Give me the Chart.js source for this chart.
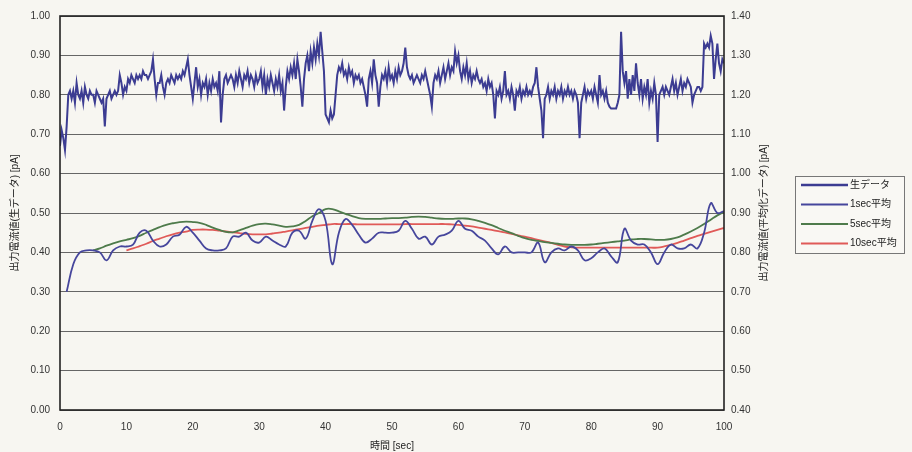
<!DOCTYPE html>
<html>
<head>
<meta charset="utf-8">
<script src="https://cdn.jsdelivr.net/npm/chart.js@4.4.0/dist/chart.umd.min.js"></script>
<style>
  html, body { margin: 0; padding: 0; background: #f7f6f1; }
  #wrap { width: 912px; height: 452px; }
</style>
</head>
<body>
<div id="wrap"><canvas id="c" width="912" height="452"></canvas></div>
<script>
// ---- data -------------------------------------------------------------
const seriesLabels = ['生データ', '1sec平均', '5sec平均', '10sec平均'];
const axisTitleX = '時間 [sec]';
const axisTitleRaw = '出力電流値(生データ) [pA]';
const axisTitleAvg = '出力電流値(平均化データ) [pA]';

const timeTicks = [0, 10, 20, 30, 40, 50, 60, 70, 80, 90, 100];
const rawTicks = [0.0, 0.1, 0.2, 0.3, 0.4, 0.5, 0.6, 0.7, 0.8, 0.9, 1.0];
const avgTicks = [0.4, 0.5, 0.6, 0.7, 0.8, 0.9, 1.0, 1.1, 1.2, 1.3, 1.4];

// raw current [pA], one sample every 0.25 s from t = 0
const rawSampleSec = 0.25;
const rawCurrent = [
  0.67,0.71,0.69,0.66,0.72,0.80,0.81,0.79,0.81,0.78,0.83,0.80,0.79,0.81,0.78,0.82,0.80,0.79,0.81,0.80,
  0.80,0.78,0.81,0.80,0.79,0.78,0.79,0.72,0.79,0.80,0.81,0.79,0.80,0.81,0.80,0.81,0.85,0.83,0.80,0.82,
  0.81,0.84,0.83,0.85,0.84,0.83,0.85,0.84,0.85,0.84,0.86,0.85,0.85,0.84,0.85,0.86,0.89,0.84,0.80,0.83,
  0.83,0.85,0.82,0.80,0.83,0.84,0.83,0.85,0.84,0.83,0.85,0.84,0.85,0.84,0.86,0.85,0.87,0.89,0.85,0.82,
  0.79,0.83,0.87,0.82,0.84,0.80,0.83,0.82,0.84,0.80,0.83,0.81,0.84,0.82,0.83,0.81,0.86,0.73,0.80,0.84,
  0.85,0.83,0.84,0.85,0.84,0.82,0.85,0.83,0.86,0.84,0.82,0.85,0.84,0.86,0.83,0.85,0.84,0.82,0.85,0.83,
  0.84,0.86,0.82,0.85,0.80,0.84,0.82,0.85,0.83,0.81,0.84,0.82,0.85,0.81,0.83,0.76,0.82,0.86,0.84,0.87,
  0.85,0.88,0.84,0.89,0.86,0.82,0.77,0.84,0.88,0.90,0.86,0.91,0.88,0.92,0.89,0.93,0.90,0.96,0.91,0.86,
  0.75,0.74,0.73,0.76,0.74,0.75,0.80,0.85,0.87,0.86,0.88,0.85,0.86,0.84,0.87,0.85,0.86,0.83,0.85,0.84,
  0.85,0.83,0.84,0.82,0.80,0.77,0.84,0.86,0.83,0.89,0.85,0.83,0.77,0.82,0.85,0.84,0.86,0.83,0.87,0.84,
  0.85,0.83,0.86,0.84,0.87,0.85,0.86,0.88,0.92,0.87,0.85,0.84,0.85,0.83,0.84,0.85,0.84,0.83,0.85,0.84,
  0.86,0.84,0.82,0.80,0.77,0.83,0.85,0.84,0.86,0.83,0.85,0.87,0.84,0.86,0.88,0.85,0.87,0.86,0.91,0.88,
  0.90,0.86,0.84,0.87,0.85,0.88,0.84,0.86,0.83,0.85,0.84,0.86,0.84,0.83,0.84,0.82,0.83,0.81,0.84,0.82,
  0.83,0.80,0.74,0.81,0.80,0.82,0.79,0.81,0.86,0.80,0.81,0.79,0.82,0.80,0.76,0.81,0.80,0.82,0.79,0.81,
  0.80,0.82,0.80,0.81,0.80,0.82,0.83,0.87,0.82,0.79,0.76,0.69,0.79,0.80,0.82,0.79,0.81,0.80,0.82,0.79,
  0.81,0.80,0.82,0.79,0.81,0.80,0.82,0.80,0.81,0.79,0.81,0.80,0.78,0.69,0.78,0.80,0.82,0.79,0.81,0.80,
  0.81,0.79,0.82,0.80,0.78,0.85,0.80,0.81,0.79,0.81,0.78,0.77,0.765,0.765,0.765,0.765,0.78,0.80,0.96,0.86,
  0.83,0.86,0.79,0.84,0.80,0.85,0.81,0.88,0.83,0.80,0.84,0.79,0.82,0.80,0.84,0.78,0.81,0.79,0.83,0.80,
  0.68,0.80,0.81,0.82,0.80,0.82,0.81,0.80,0.82,0.84,0.81,0.83,0.80,0.82,0.84,0.81,0.83,0.82,0.84,0.83,
  0.82,0.78,0.80,0.81,0.82,0.82,0.81,0.82,0.93,0.92,0.93,0.92,0.95,0.93,0.84,0.89,0.93,0.88,0.86,0.89,
  0.88
];

// averaged current [pA], one value per second
const avg1Start = 1;
const avg1Sec = [
  0.700,0.770,0.800,0.805,0.805,0.800,0.780,0.805,0.815,0.815,
  0.820,0.850,0.855,0.830,0.815,0.820,0.840,0.845,0.865,0.850,
  0.830,0.810,0.805,0.805,0.810,0.840,0.840,0.850,0.830,0.825,
  0.840,0.830,0.820,0.815,0.850,0.855,0.835,0.880,0.910,0.880,
  0.770,0.850,0.885,0.870,0.845,0.825,0.835,0.850,0.850,0.850,
  0.855,0.880,0.860,0.835,0.840,0.820,0.840,0.845,0.855,0.880,
  0.860,0.855,0.840,0.830,0.810,0.795,0.815,0.800,0.800,0.800,
  0.800,0.825,0.775,0.800,0.810,0.805,0.815,0.805,0.780,0.785,
  0.800,0.810,0.790,0.775,0.860,0.830,0.820,0.820,0.800,0.770,
  0.800,0.820,0.810,0.810,0.820,0.810,0.850,0.925,0.900,0.905
];

const avg5Start = 5;
const avg5Sec = [
  0.805,0.810,0.817,0.823,0.828,0.832,0.836,0.842,0.850,0.857,
  0.864,0.870,0.874,0.877,0.878,0.877,0.875,0.870,0.863,0.857,
  0.852,0.851,0.856,0.862,0.868,0.872,0.873,0.871,0.868,0.865,
  0.866,0.870,0.880,0.892,0.900,0.910,0.910,0.904,0.898,0.892,
  0.887,0.885,0.885,0.885,0.886,0.887,0.887,0.888,0.890,0.891,
  0.890,0.888,0.886,0.885,0.885,0.886,0.886,0.884,0.880,0.875,
  0.869,0.862,0.855,0.849,0.842,0.836,0.832,0.829,0.826,0.824,
  0.822,0.820,0.819,0.819,0.819,0.820,0.822,0.824,0.826,0.828,
  0.830,0.833,0.834,0.834,0.833,0.832,0.832,0.834,0.838,0.845,
  0.853,0.862,0.872,0.883,0.894,0.903
];

const avg10Start = 10;
const avg10Sec = [
  0.805,0.810,0.816,0.822,0.829,0.835,0.841,0.846,0.850,0.853,
  0.857,0.858,0.858,0.857,0.855,0.853,0.851,0.849,0.847,0.846,
  0.846,0.846,0.848,0.850,0.853,0.856,0.859,0.862,0.865,0.868,
  0.870,0.872,0.872,0.872,0.872,0.871,0.871,0.871,0.871,0.871,
  0.871,0.871,0.872,0.872,0.872,0.872,0.872,0.872,0.872,0.871,
  0.870,0.868,0.866,0.863,0.860,0.857,0.854,0.851,0.847,0.843,
  0.840,0.836,0.832,0.828,0.824,0.819,0.815,0.813,0.812,0.812,
  0.812,0.812,0.812,0.812,0.812,0.812,0.812,0.812,0.812,0.812,
  0.812,0.815,0.819,0.824,0.830,0.836,0.842,0.847,0.852,0.857,
  0.862
];

// ---- helpers -----------------------------------------------------------
function toPoints(values, start, step) {
  return values.map((v, i) => ({ x: start + i * step, y: v }));
}

const FONT = '"Liberation Sans", Arial, "Noto Sans CJK JP", sans-serif';
const COLORS = ['#3c3c92', '#46469c', '#4e7b4b', '#e05a58'];
const WIDTHS = [2, 1.8, 1.8, 1.8];

// page colour, plot frame, right-hand axis title and the boxed legend
const decorations = {
  id: 'decorations',
  beforeDraw(chart) {
    const ctx = chart.ctx;
    ctx.save();
    ctx.fillStyle = '#f7f6f1';
    ctx.fillRect(0, 0, chart.width, chart.height);
    ctx.restore();
  },
  afterDatasetsDraw(chart) {
    const { ctx, chartArea: a } = chart;
    ctx.save();
    ctx.strokeStyle = '#222';
    ctx.lineWidth = 1.6;
    ctx.strokeRect(a.left, a.top, a.right - a.left, a.bottom - a.top);
    ctx.restore();
  },
  afterDraw(chart) {
    const { ctx, chartArea: a } = chart;
    // right axis title, read bottom-to-top
    ctx.save();
    ctx.translate(a.right + 40, (a.top + a.bottom) / 2);
    ctx.rotate(-Math.PI / 2);
    ctx.font = '10px ' + FONT;
    ctx.fillStyle = '#222';
    ctx.textAlign = 'center';
    ctx.textBaseline = 'middle';
    ctx.fillText(axisTitleAvg, 0, 0);
    ctx.restore();

    // legend
    const bx = a.right + 71, by = a.top + 160, bw = 109, bh = 77;
    ctx.save();
    ctx.fillStyle = '#f9f8f4';
    ctx.fillRect(bx, by, bw, bh);
    ctx.strokeStyle = '#777';
    ctx.lineWidth = 1;
    ctx.strokeRect(bx + 0.5, by + 0.5, bw, bh);
    ctx.font = '10px ' + FONT;
    ctx.textBaseline = 'middle';
    ctx.textAlign = 'left';
    chart.data.datasets.forEach((ds, i) => {
      const yy = by + 9 + i * 19.5;
      ctx.strokeStyle = ds.borderColor;
      ctx.lineWidth = ds.borderWidth + 0.4;
      ctx.beginPath();
      ctx.moveTo(bx + 6, yy);
      ctx.lineTo(bx + 53, yy);
      ctx.stroke();
      ctx.fillStyle = '#222';
      ctx.fillText(ds.label, bx + 55, yy);
    });
    ctx.restore();
  }
};

const chart = new Chart(document.getElementById('c'), {
  type: 'line',
  data: {
    datasets: [
      { label: seriesLabels[0], data: toPoints(rawCurrent, 0, rawSampleSec), yAxisID: 'yRaw', tension: 0 },
      { label: seriesLabels[1], data: toPoints(avg1Sec, avg1Start, 1), yAxisID: 'yAvg', tension: 0.4 },
      { label: seriesLabels[2], data: toPoints(avg5Sec, avg5Start, 1), yAxisID: 'yAvg', tension: 0.4 },
      { label: seriesLabels[3], data: toPoints(avg10Sec, avg10Start, 1), yAxisID: 'yAvg', tension: 0.4 }
    ].map((ds, i) => Object.assign(ds, {
      borderColor: COLORS[i],
      backgroundColor: COLORS[i],
      borderWidth: WIDTHS[i],
      pointRadius: 0,
      fill: false
    }))
  },
  options: {
    responsive: false,
    animation: false,
    events: [],
    layout: { padding: { top: 15, right: 0, left: 0, bottom: 0 } },
    plugins: { legend: { display: false }, tooltip: { enabled: false } },
    scales: {
      x: {
        type: 'linear',
        min: timeTicks[0],
        max: timeTicks[timeTicks.length - 1],
        afterBuildTicks(s) { s.ticks = timeTicks.map(v => ({ value: v })); },
        ticks: { font: { size: 10, family: FONT }, color: '#333', padding: 3, maxRotation: 0,
                 callback: v => String(v) },
        grid: { display: false },
        border: { display: false },
        title: { display: true, text: axisTitleX, font: { size: 10, family: FONT }, color: '#222',
                 padding: { top: 0, bottom: 0 } },
        afterFit(s) { s.height = 42; }
      },
      yRaw: {
        position: 'left',
        min: rawTicks[0],
        max: rawTicks[rawTicks.length - 1],
        afterBuildTicks(s) { s.ticks = rawTicks.map(v => ({ value: v })); },
        ticks: { font: { size: 10, family: FONT }, color: '#333', padding: 10,
                 callback: v => Number(v).toFixed(2) },
        grid: { color: '#666', lineWidth: 1, drawTicks: false },
        border: { display: false },
        title: { display: true, text: axisTitleRaw, font: { size: 10, family: FONT }, color: '#222',
                 padding: { top: 9, bottom: 0 } },
        afterFit(s) { s.width = 60; }
      },
      yAvg: {
        position: 'right',
        min: avgTicks[0],
        max: avgTicks[avgTicks.length - 1],
        afterBuildTicks(s) { s.ticks = avgTicks.map(v => ({ value: v })); },
        ticks: { font: { size: 10, family: FONT }, color: '#333', padding: 7,
                 callback: v => Number(v).toFixed(2) },
        grid: { display: false, drawTicks: false },
        border: { display: false },
        afterFit(s) { s.width = 188; }
      }
    }
  },
  plugins: [decorations]
});
</script>
</body>
</html>
